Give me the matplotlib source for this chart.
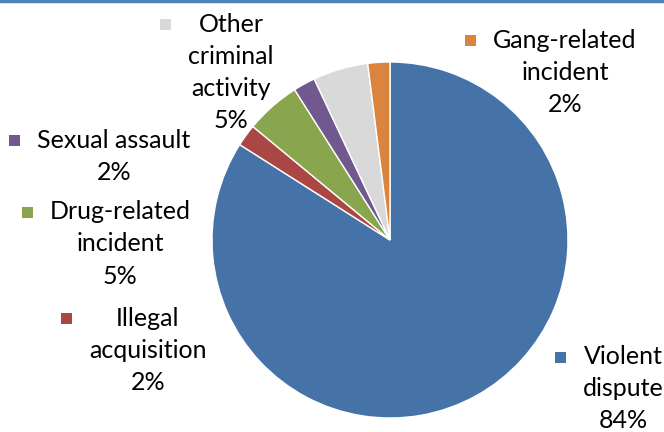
import matplotlib
matplotlib.use("Agg")
import matplotlib.pyplot as plt
from matplotlib.patches import Rectangle
from matplotlib.lines import Line2D

# pie data, clockwise from 12 o'clock
categories = ["Violent dispute", "Illegal acquisition", "Drug-related incident",
              "Sexual assault", "Other criminal activity", "Gang-related incident"]
shares = [84, 2, 5, 2, 5, 2]
colors = ["#4572A7", "#AA4643", "#89A54E", "#71588F", "#D9D9D9", "#DB843D"]

# how each category label is broken over lines
label_lines = [["Violent", "dispute"], ["Illegal", "acquisition"],
               ["Drug-related", "incident"], ["Sexual assault"],
               ["Other", "criminal", "activity"], ["Gang-related", "incident"]]
# label anchor: centre x, first line y (pixels from top-left)
label_pos = [(623, 357), (148, 318), (120, 212), (114, 140), (231, 24), (565, 40)]

W, H = 664, 432
fig = plt.figure(figsize=(W / 100, H / 100), dpi=100)

# pie centre and radius in pixels
cx, cy, r = 390, 240, 178
ax = fig.add_axes([(cx - r) / W, 1 - (cy + r) / H, 2 * r / W, 2 * r / H])
ax.pie(shares, colors=colors, startangle=90, counterclock=False,
       wedgeprops=dict(edgecolor="white", linewidth=1))
ax.set_xlim(-1, 1)
ax.set_ylim(-1, 1)

font = dict(family=["Lato", "DejaVu Sans"], fontsize=18, color="black")
pitch = 32
groups = []
for lines, val, (lx, ly) in zip(label_lines, shares, label_pos):
    texts = []
    for i, line in enumerate(lines + [f"{val}%"]):
        t = fig.text(lx / W, 1 - (ly + i * pitch) / H, line,
                     ha="center", va="center", **font)
        texts.append(t)
    groups.append(texts)

fig.canvas.draw()
renderer = fig.canvas.get_renderer()
for texts, c, (lx, ly) in zip(groups, colors, label_pos):
    left = min(t.get_window_extent(renderer).x0 for t in texts)
    sq = 11
    fig.add_artist(Rectangle(((left - 17 - sq) / W, 1 - (ly + sq / 2) / H),
                             sq / W, sq / H, transform=fig.transFigure,
                             facecolor=c, edgecolor="none"))

# thin blue rule along the top
fig.add_artist(Line2D([0, 1], [1 - 1 / H, 1 - 1 / H], transform=fig.transFigure,
                      color="#4F81BD", linewidth=2.5))

fig.savefig("out.png", dpi=100)
